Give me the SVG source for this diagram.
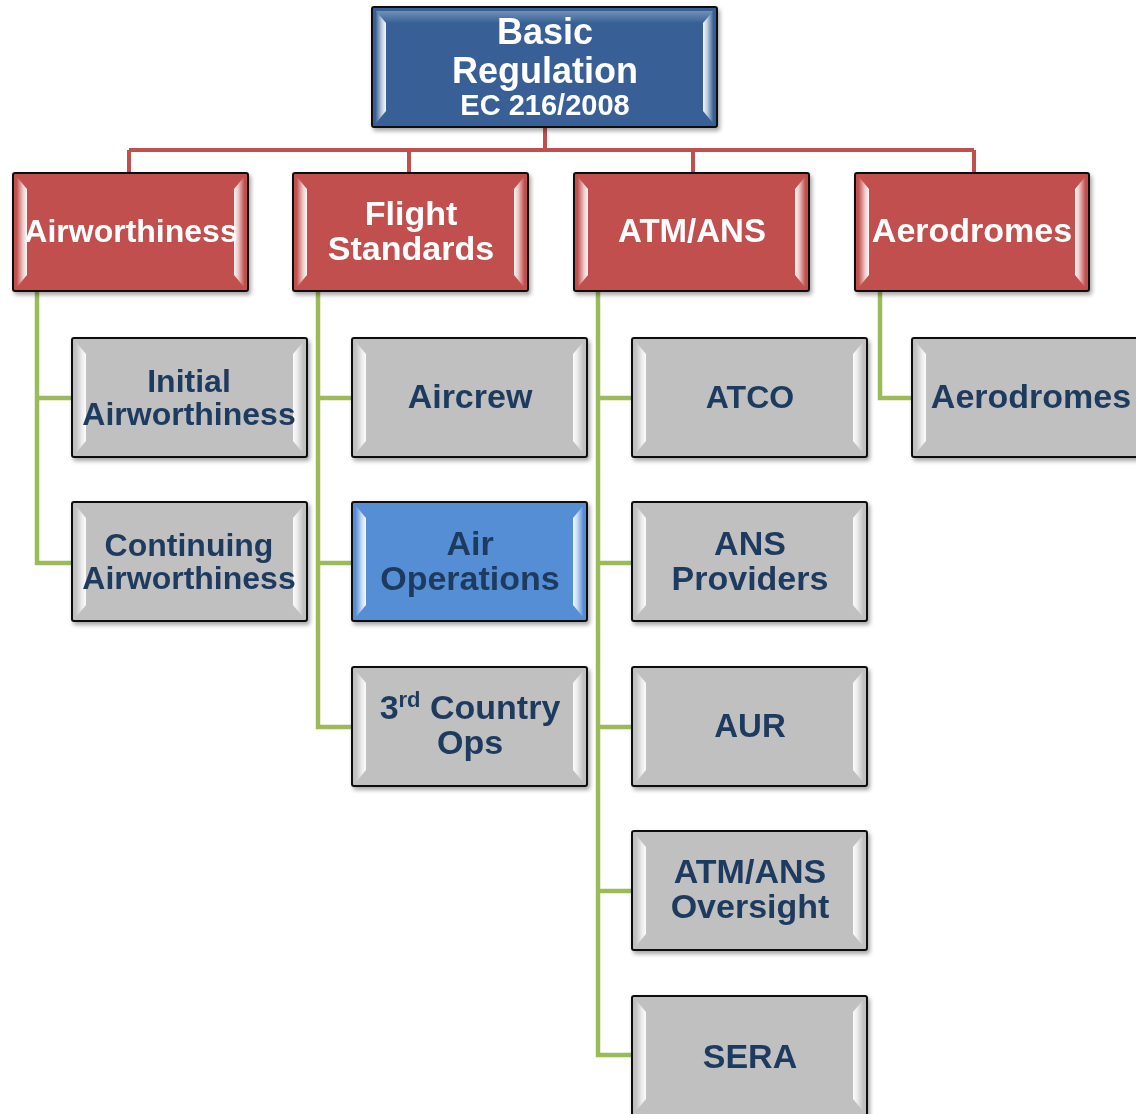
<svg xmlns="http://www.w3.org/2000/svg" width="1136" height="1114" viewBox="0 0 1136 1114">
<defs>
<filter id="sh" x="-5%" y="-5%" width="115%" height="120%">
<feDropShadow dx="2" dy="3" stdDeviation="2" flood-color="#000" flood-opacity="0.35"/>
</filter>
<linearGradient id="hlL" x1="0" y1="0" x2="1" y2="0">
<stop offset="0" stop-color="#fff" stop-opacity="0.05"/>
<stop offset="0.6" stop-color="#fff" stop-opacity="0.7"/>
<stop offset="1" stop-color="#fff" stop-opacity="0.95"/>
</linearGradient>
<linearGradient id="hlR" x1="1" y1="0" x2="0" y2="0">
<stop offset="0" stop-color="#fff" stop-opacity="0.05"/>
<stop offset="0.6" stop-color="#fff" stop-opacity="0.7"/>
<stop offset="1" stop-color="#fff" stop-opacity="0.95"/>
</linearGradient>
<linearGradient id="topG" x1="0" y1="0" x2="0" y2="1">
<stop offset="0" stop-color="#fff" stop-opacity="0.3"/>
<stop offset="1" stop-color="#fff" stop-opacity="0"/>
</linearGradient>
</defs>
<style>
.box{stroke:#111;stroke-width:2}
.root{fill:#376196}
.red{fill:#C0504D}
.grey{fill:#C0C0C0}
.blue{fill:#558ED5}
.hl{stroke:none}
.t{font-family:"Liberation Sans",Arial,sans-serif;font-weight:bold;text-anchor:middle}
.tw{fill:#fff}
.td{fill:#1F3A5F}
.rc{fill:none;stroke:#C0504D;stroke-width:4}
.gc{fill:none;stroke:#9BBB59;stroke-width:4.5}
</style>

<g id="connectors">
<path class="rc" d="M545 127V150M129 150H974M129 150V173M409 150V173M693 150V173M974 150V173"/>
<path class="gc" d="M37 291V563H72M37 398H72"/>
<path class="gc" d="M318 291V727H352M318 398H352M318 563H352"/>
<path class="gc" d="M598 291V1055H632M598 398H632M598 563H632M598 727H632M598 891H632"/>
<path class="gc" d="M880 291V398H912"/>
</g>

<g id="basic-regulation" filter="url(#sh)">
<rect class="box root" x="372" y="7" width="345" height="120" rx="2"/>
<path class="hl" fill="url(#hlL)" d="M376 11L386 23V111L376 123Z"/>
<path class="hl" fill="url(#hlR)" d="M713 11L703 23V111L713 123Z"/>
<path class="hl" fill="url(#topG)" d="M376 11H713L703 23H386Z"/>
<text class="t tw" x="545" y="44" font-size="36">Basic</text>
<text class="t tw" x="545" y="83" font-size="36">Regulation</text>
<text class="t tw" x="545" y="115" font-size="29">EC 216/2008</text>
</g>

<g id="airworthiness" filter="url(#sh)">
<rect class="box red" x="13" y="173" width="235" height="118" rx="2"/>
<path class="hl" fill="url(#hlL)" d="M17 177L27 189V275L17 287Z"/>
<path class="hl" fill="url(#hlR)" d="M244 177L234 189V275L244 287Z"/>
<text class="t tw" x="131" y="242" font-size="32">Airworthiness</text>
</g>

<g id="flight-standards" filter="url(#sh)">
<rect class="box red" x="293" y="173" width="235" height="118" rx="2"/>
<path class="hl" fill="url(#hlL)" d="M297 177L307 189V275L297 287Z"/>
<path class="hl" fill="url(#hlR)" d="M524 177L514 189V275L524 287Z"/>
<text class="t tw" x="411" y="225" font-size="34">Flight</text>
<text class="t tw" x="411" y="260" font-size="34">Standards</text>
</g>

<g id="atm-ans" filter="url(#sh)">
<rect class="box red" x="574" y="173" width="235" height="118" rx="2"/>
<path class="hl" fill="url(#hlL)" d="M578 177L588 189V275L578 287Z"/>
<path class="hl" fill="url(#hlR)" d="M805 177L795 189V275L805 287Z"/>
<text class="t tw" x="692" y="242" font-size="33">ATM/ANS</text>
</g>

<g id="aerodromes-1" filter="url(#sh)">
<rect class="box red" x="855" y="173" width="234" height="118" rx="2"/>
<path class="hl" fill="url(#hlL)" d="M859 177L869 189V275L859 287Z"/>
<path class="hl" fill="url(#hlR)" d="M1085 177L1075 189V275L1085 287Z"/>
<text class="t tw" x="972" y="242" font-size="34">Aerodromes</text>
</g>

<g id="initial-airworthiness" filter="url(#sh)">
<rect class="box grey" x="72" y="338" width="235" height="119" rx="2"/>
<path class="hl" fill="url(#hlL)" d="M76 342L86 354V441L76 453Z"/>
<path class="hl" fill="url(#hlR)" d="M303 342L293 354V441L303 453Z"/>
<text class="t td" x="189" y="392" font-size="32">Initial</text>
<text class="t td" x="189" y="425" font-size="32">Airworthiness</text>
</g>

<g id="continuing-airworthiness" filter="url(#sh)">
<rect class="box grey" x="72" y="502" width="235" height="119" rx="2"/>
<path class="hl" fill="url(#hlL)" d="M76 506L86 518V605L76 617Z"/>
<path class="hl" fill="url(#hlR)" d="M303 506L293 518V605L303 617Z"/>
<text class="t td" x="189" y="556" font-size="32">Continuing</text>
<text class="t td" x="189" y="589" font-size="32">Airworthiness</text>
</g>

<g id="aircrew" filter="url(#sh)">
<rect class="box grey" x="352" y="338" width="235" height="119" rx="2"/>
<path class="hl" fill="url(#hlL)" d="M356 342L366 354V441L356 453Z"/>
<path class="hl" fill="url(#hlR)" d="M583 342L573 354V441L583 453Z"/>
<text class="t td" x="470" y="408" font-size="34">Aircrew</text>
</g>

<g id="air-operations" filter="url(#sh)">
<rect class="box blue" x="352" y="502" width="235" height="119" rx="2"/>
<path class="hl" fill="url(#hlL)" d="M356 506L366 518V605L356 617Z"/>
<path class="hl" fill="url(#hlR)" d="M583 506L573 518V605L583 617Z"/>
<text class="t td" x="470" y="555" font-size="34">Air</text>
<text class="t td" x="470" y="590" font-size="34">Operations</text>
</g>

<g id="third-country-ops" filter="url(#sh)">
<rect class="box grey" x="352" y="667" width="235" height="119" rx="2"/>
<path class="hl" fill="url(#hlL)" d="M356 671L366 683V770L356 782Z"/>
<path class="hl" fill="url(#hlR)" d="M583 671L573 683V770L583 782Z"/>
<text class="t td" x="470" y="719" font-size="34">3<tspan font-size="22" dy="-12">rd</tspan><tspan dy="12"> Country</tspan></text>
<text class="t td" x="470" y="754" font-size="34">Ops</text>
</g>

<g id="atco" filter="url(#sh)">
<rect class="box grey" x="632" y="338" width="235" height="119" rx="2"/>
<path class="hl" fill="url(#hlL)" d="M636 342L646 354V441L636 453Z"/>
<path class="hl" fill="url(#hlR)" d="M863 342L853 354V441L863 453Z"/>
<text class="t td" x="750" y="408" font-size="32">ATCO</text>
</g>

<g id="ans-providers" filter="url(#sh)">
<rect class="box grey" x="632" y="502" width="235" height="119" rx="2"/>
<path class="hl" fill="url(#hlL)" d="M636 506L646 518V605L636 617Z"/>
<path class="hl" fill="url(#hlR)" d="M863 506L853 518V605L863 617Z"/>
<text class="t td" x="750" y="555" font-size="34">ANS</text>
<text class="t td" x="750" y="590" font-size="34">Providers</text>
</g>

<g id="aur" filter="url(#sh)">
<rect class="box grey" x="632" y="667" width="235" height="119" rx="2"/>
<path class="hl" fill="url(#hlL)" d="M636 671L646 683V770L636 782Z"/>
<path class="hl" fill="url(#hlR)" d="M863 671L853 683V770L863 782Z"/>
<text class="t td" x="750" y="737" font-size="33">AUR</text>
</g>

<g id="atm-ans-oversight" filter="url(#sh)">
<rect class="box grey" x="632" y="831" width="235" height="119" rx="2"/>
<path class="hl" fill="url(#hlL)" d="M636 835L646 847V934L636 946Z"/>
<path class="hl" fill="url(#hlR)" d="M863 835L853 847V934L863 946Z"/>
<text class="t td" x="750" y="883" font-size="34">ATM/ANS</text>
<text class="t td" x="750" y="918" font-size="34">Oversight</text>
</g>

<g id="sera" filter="url(#sh)">
<rect class="box grey" x="632" y="996" width="235" height="124" rx="2"/>
<path class="hl" fill="url(#hlL)" d="M636 1000L646 1012V1099L636 1111Z"/>
<path class="hl" fill="url(#hlR)" d="M863 1000L853 1012V1099L863 1111Z"/>
<text class="t td" x="750" y="1068" font-size="34">SERA</text>
</g>

<g id="aerodromes-2" filter="url(#sh)">
<rect class="box grey" x="912" y="338" width="236" height="119" rx="2"/>
<path class="hl" fill="url(#hlL)" d="M916 342L926 354V441L916 453Z"/>
<text class="t td" x="1031" y="408" font-size="34">Aerodromes</text>
</g>
</svg>
